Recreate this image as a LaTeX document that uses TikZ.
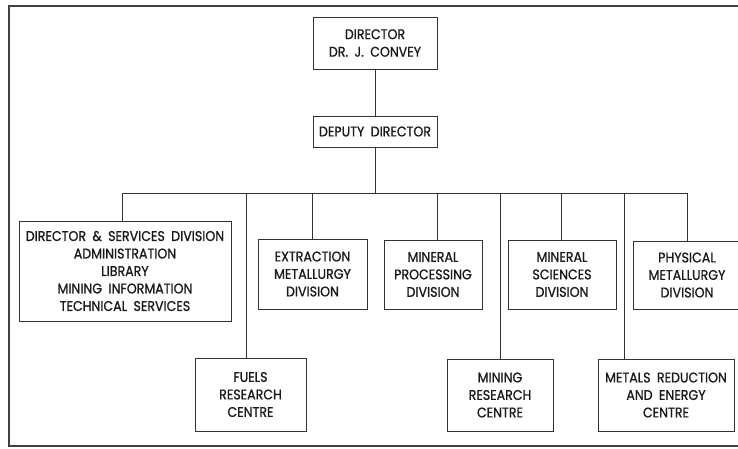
\documentclass[tikz,border=0pt]{standalone}
\usepackage{fontspec}
\setmainfont{Poppins}[FakeStretch=0.9, WordSpace=1.9, FakeBold=0.9]
\begin{document}
\begin{tikzpicture}[x=1pt,y=-1pt,
  box/.style={draw=black!80, line width=0.9pt, rectangle, inner sep=0pt, align=center,
    text=black!90, font=\fontsize{14}{17.5}\selectfont},
  conn/.style={draw=black!80, line width=0.9pt},
  frame/.style={draw=black!75, line width=1.3pt}]
\useasboundingbox (0,0) rectangle (738,448);
\clip (0,0) rectangle (738,448);
\draw[frame] (745,6) -- (9,6) -- (9,446) -- (745,446);
% top
\node[box, minimum width=124pt, minimum height=52pt] (dir) at (375,43) {DIRECTOR\\DR. J. CONVEY};
\node[box, minimum width=124pt, minimum height=31pt] (dep) at (375,131.5) {DEPUTY DIRECTOR};
% upper row
\node[box, minimum width=212pt, minimum height=100pt] (dsd) at (125,271) {DIRECTOR \& SERVICES DIVISION\\ADMINISTRATION\\LIBRARY\\MINING INFORMATION\\TECHNICAL SERVICES};
\node[box, minimum width=109pt, minimum height=70pt] (ext) at (312.5,274) {EXTRACTION\\METALLURGY\\DIVISION};
\node[box, minimum width=98pt, minimum height=69pt] (mpd) at (433,274.5) {MINERAL\\PROCESSING\\DIVISION};
\node[box, minimum width=108pt, minimum height=69pt] (msd) at (562,274.5) {MINERAL\\SCIENCES\\DIVISION};
\node[box, minimum width=108pt, minimum height=68pt] (pmd) at (687,275) {PHYSICAL\\METALLURGY\\DIVISION};
% lower row
\node[box, minimum width=111pt, minimum height=73pt] (frc) at (250.5,394.5) {FUELS\\RESEARCH\\CENTRE};
\node[box, minimum width=106pt, minimum height=72pt] (mrc) at (500,395) {MINING\\RESEARCH\\CENTRE};
\node[box, minimum width=136pt, minimum height=72pt] (mre) at (666,395) {METALS REDUCTION\\AND ENERGY\\CENTRE};
% bus
\coordinate (b1) at (122,193);
\coordinate (b2) at (246,193);
\coordinate (b3) at (312,193);
\coordinate (b4) at (437,193);
\coordinate (b5) at (500,193);
\coordinate (b6) at (561,193);
\coordinate (b7) at (624,193);
\coordinate (b8) at (687,193);
\coordinate (bt) at (375,193);
\draw[conn] (dir) -- (dep);
\draw[conn] (dep) -- (bt);
\draw[conn] (b1) -- (b8);
\draw[conn] (b1) -- (b1 |- dsd.north);
\draw[conn] (b2) -- (b2 |- frc.north);
\draw[conn] (b3) -- (b3 |- ext.north);
\draw[conn] (b4) -- (b4 |- mpd.north);
\draw[conn] (b5) -- (b5 |- mrc.north);
\draw[conn] (b6) -- (b6 |- msd.north);
\draw[conn] (b7) -- (b7 |- mre.north);
\draw[conn] (b8) -- (b8 |- pmd.north);
\end{tikzpicture}
\end{document}
